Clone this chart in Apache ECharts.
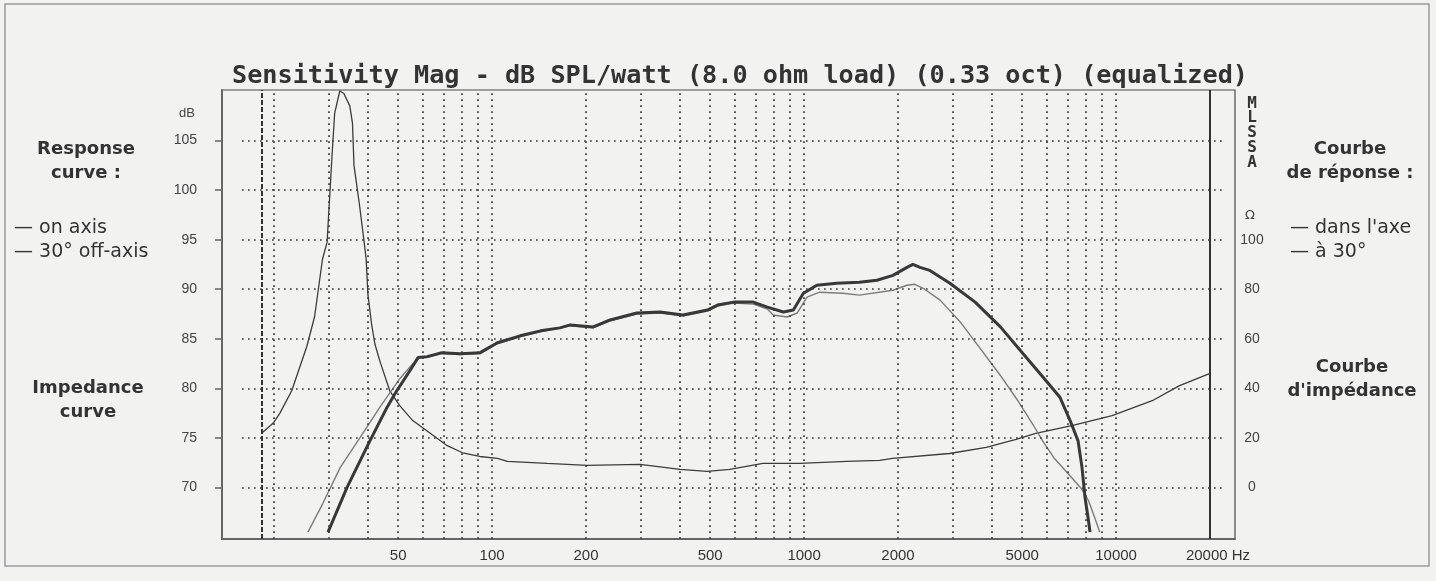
<!DOCTYPE html>
<html>
<head>
<meta charset="utf-8">
<title>Sensitivity Mag</title>
<script src="https://cdn.jsdelivr.net/npm/echarts@6/dist/echarts.min.js"></script>
<style>
    html, body { margin: 0; padding: 0; background: #f2f2f0; }
    #main { width: 1436px; height: 581px; }
</style>
</head>
<body>
<div id="main"></div>
<script>
// values (Hz / dB / ohm)
var onAxisFreq = [29.8, 34.3, 40.6, 46.1, 49.6, 54.6, 57.9, 61.9, 69.1, 79, 91.6, 104, 123, 143, 165,
    178, 211, 239, 291, 346, 409, 490, 528, 594, 688, 763, 858, 924, 995, 1099,
    1271, 1504, 1712, 1927, 2137, 2233, 2352, 2530, 2934, 3534, 4258, 4942, 5736, 6607, 7112,
    7553, 7778, 7950, 8128, 8250];
var onAxisDb = [65.5, 70, 74.7, 78.1, 79.8, 81.8, 83.1, 83.2, 83.6, 83.5, 83.6, 84.6, 85.3, 85.8, 86.1,
    86.4, 86.2, 86.9, 87.6, 87.7, 87.4, 87.9, 88.4, 88.7, 88.7, 88.2, 87.7, 87.9, 89.6, 90.4,
    90.6, 90.7, 90.9, 91.4, 92.2, 92.5, 92.2, 91.9, 90.6, 88.7, 86.2, 83.8, 81.4, 79.1, 76.8,
    74.7, 72, 69, 67, 65.5];

var offAxisFreq = [25.7, 28.7, 32.6, 37.7, 43.7, 50.7, 55.8, 58.7, 61.9, 69.1, 79, 91.6, 104, 123, 143,
    178, 211, 239, 291, 346, 409, 490, 528, 594, 688, 763, 796, 882, 950, 1022,
    1122, 1330, 1504, 1927, 2137, 2264, 2436, 2728, 3166, 3672, 4258, 4832, 5426, 5815, 6316,
    7012, 7734, 8151, 8532, 8862];
var offAxisDb = [65.5, 68.4, 72, 75, 78.1, 81, 82.5, 83.1, 83.1, 83.5, 83.4, 83.5, 84.5, 85.2, 85.7,
    86.3, 86.1, 86.8, 87.5, 87.6, 87.3, 87.8, 88.3, 88.6, 88.5, 88.0, 87.4, 87.2, 87.6, 89.2,
    89.7, 89.6, 89.4, 89.9, 90.4, 90.5, 90.0, 88.9, 86.7, 84.0, 81.3, 78.8, 76.3, 74.7, 73,
    71.4, 69.9, 68.7, 67, 65.5];

var impFreq = [18.3, 19.9, 20.9, 22.8, 25.5, 27.0, 28.6, 29.6, 30.7, 31.3, 32.5, 33.5, 35.0, 35.7, 36.1,
    37.6, 39.0, 39.5, 40.0, 41.1, 42.1, 43.7, 47.0, 50.6, 55.7, 63.2, 71.5, 80.5, 91.3, 104,
    112, 150, 202, 298, 400, 489, 578, 738, 969, 1371, 1748, 1922, 2924, 3836, 4781,
    5526, 7213, 9710, 13061, 15910, 20000];
var impOhm = [22, 26, 30, 39, 57, 69, 92, 99, 134, 151, 160, 159, 154, 147, 130,
    114, 98, 92, 78, 66, 58, 51, 39, 33, 27, 22, 17, 14, 12.5, 11.7,
    10.5, 9.7, 8.9, 9.3, 7.3, 6.5, 7.3, 9.7, 9.7, 10.5, 10.9, 11.7, 13.7, 16.2, 19.4,
    21.8, 25, 29, 35, 41, 46];

var gridFreqs = [20, 30, 40, 50, 60, 70, 80, 90, 100, 200, 300, 400, 500, 600, 700, 800, 900,
    1000, 2000, 3000, 4000, 5000, 6000, 7000, 8000, 9000, 10000];
var limitFreqs = [18.3, 20000];
var freqLabels = [50, 100, 200, 500, 1000, 2000, 5000, 10000, 20000];
var dbLabels = [70, 75, 80, 85, 90, 95, 100, 105];
var ohmLabels = [0, 20, 40, 60, 80, 100];

function pairs(xs, ys) {
    return xs.map(function (x, i) { return [x, ys[i]]; });
}

var dotted = { color: '#3a3a3a', width: 1.7, type: [1.7, 4.3] };
var sans = '"Liberation Sans", Arial, sans-serif';
var note = '"DejaVu Sans", sans-serif';

var myChart = echarts.init(document.getElementById('main'));
var option = {
    backgroundColor: '#f2f2f0',
    animation: false,
    grid: [
        { left: 222, right: 201, top: 90, bottom: 42, show: true, borderColor: '#4a4a4a', borderWidth: 1.2 },
        { left: 242, right: 211, top: 90, bottom: 42 }
    ],
    xAxis: [
        {
            type: 'log', gridIndex: 0, min: 13.63, max: 24050,
            axisLine: { show: true, onZero: false, lineStyle: { color: '#666', width: 2 } },
            axisTick: { show: false },
            splitLine: { show: false },
            axisLabel: {
                customValues: freqLabels, margin: 9, fontSize: 15, color: '#333', fontFamily: sans,
                formatter: function (v) {
                    v = Math.round(v);
                    return v === 20000 ? '{hz|20000 Hz}' : String(v);
                },
                rich: { hz: { fontSize: 15, color: '#333', fontFamily: sans, padding: [0, 0, 0, 16] } }
            }
        },
        { type: 'value', gridIndex: 1, min: 0, max: 1, show: false, axisLine: { onZero: false } }
    ],
    yAxis: [
        {
            type: 'value', gridIndex: 0, min: 64.8, max: 110.1,
            axisLine: { show: true, onZero: false, lineStyle: { color: '#666', width: 2 } },
            axisTick: { show: true, customValues: dbLabels, length: 7, lineStyle: { color: '#666', width: 1.5 } },
            axisLabel: { customValues: dbLabels, margin: 25, fontSize: 14, color: '#444', fontFamily: sans },
            splitLine: { show: false }
        },
        {
            type: 'value', gridIndex: 0, position: 'right', min: -20.8, max: 160.4,
            axisLine: { show: false, onZero: false },
            axisTick: { show: false },
            axisLabel: { customValues: ohmLabels, align: 'center', margin: 17, fontSize: 14, color: '#444', fontFamily: sans },
            splitLine: { show: false }
        },
        { type: 'value', gridIndex: 1, min: 64.8, max: 110.1, show: false, axisLine: { onZero: false } }
    ],
    graphic: [
        { type: 'rect', shape: { x: 5, y: 4, width: 1424, height: 562 }, style: { fill: 'none', stroke: '#9a9a9a', lineWidth: 1.5 }, z: -1 },
        { type: 'text', x: 740, y: 76, style: { text: 'Sensitivity Mag - dB SPL/watt (8.0 ohm load) (0.33 oct) (equalized)', font: 'bold 25.2px "DejaVu Sans Mono", monospace', fill: '#333', align: 'center', verticalAlign: 'middle' } },
        { type: 'text', x: 1252, y: 96, style: { text: 'M\nL\nS\nS\nA', font: 'bold 16px "DejaVu Sans Mono", monospace', lineHeight: 14.8, fill: '#333', align: 'center', verticalAlign: 'top' } },
        { type: 'text', x: 187, y: 113, style: { text: 'dB', font: '13px ' + sans, fill: '#444', align: 'center', verticalAlign: 'middle' } },
        { type: 'text', x: 1250, y: 216, style: { text: 'Ω', font: '13px ' + note, fill: '#444', align: 'center', verticalAlign: 'middle' } },
        { type: 'text', x: 86, y: 161, style: { text: 'Response\ncurve :', font: 'bold 18px ' + note, lineHeight: 24, fill: '#333', align: 'center', verticalAlign: 'middle' } },
        { type: 'text', x: 14, y: 240, style: { text: '— on axis\n— 30° off-axis', font: '19px ' + note, lineHeight: 24, fill: '#333', align: 'left', verticalAlign: 'middle' } },
        { type: 'text', x: 88, y: 400, style: { text: 'Impedance\ncurve', font: 'bold 18px ' + note, lineHeight: 24, fill: '#333', align: 'center', verticalAlign: 'middle' } },
        { type: 'text', x: 1350, y: 161, style: { text: 'Courbe\nde réponse :', font: 'bold 18px ' + note, lineHeight: 24, fill: '#333', align: 'center', verticalAlign: 'middle' } },
        { type: 'text', x: 1290, y: 240, style: { text: '— dans l\'axe\n— à 30°', font: '19px ' + note, lineHeight: 24, fill: '#333', align: 'left', verticalAlign: 'middle' } },
        { type: 'text', x: 1352, y: 379, style: { text: 'Courbe\nd\'impédance', font: 'bold 18px ' + note, lineHeight: 24, fill: '#333', align: 'center', verticalAlign: 'middle' } }
    ],
    series: [
        {
            // vertical dotted grid
            name: 'vgrid', type: 'line', xAxisIndex: 0, yAxisIndex: 0, data: [], silent: true, z: 1,
            markLine: {
                symbol: 'none', silent: true, animation: false, label: { show: false },
                lineStyle: dotted,
                data: gridFreqs.map(function (f) { return { xAxis: f }; })
            }
        },
        {
            name: 'limits', type: 'line', xAxisIndex: 0, yAxisIndex: 0, data: [], silent: true, z: 2,
            markLine: {
                symbol: 'none', silent: true, animation: false, label: { show: false },
                data: [
                    { xAxis: limitFreqs[0], lineStyle: { color: '#333', width: 2, type: [5, 2] } },
                    { xAxis: limitFreqs[1], lineStyle: { color: '#333', width: 2, type: 'solid' } }
                ]
            }
        },
        {
            // horizontal dotted grid
            name: 'hgrid', type: 'line', xAxisIndex: 1, yAxisIndex: 2, data: [], silent: true, z: 1,
            markLine: {
                symbol: 'none', silent: true, animation: false, label: { show: false },
                lineStyle: dotted,
                data: dbLabels.map(function (v) { return { yAxis: v }; })
            }
        },
        {
            name: 'Impedance', type: 'line', xAxisIndex: 0, yAxisIndex: 1, z: 3,
            data: pairs(impFreq, impOhm), showSymbol: false,
            lineStyle: { color: '#3c3c3c', width: 1.3 }
        },
        {
            name: '30° off-axis', type: 'line', xAxisIndex: 0, yAxisIndex: 0, z: 3,
            data: pairs(offAxisFreq, offAxisDb), showSymbol: false,
            lineStyle: { color: '#7c7c7c', width: 1.4 }
        },
        {
            name: 'on axis', type: 'line', xAxisIndex: 0, yAxisIndex: 0, z: 4,
            data: pairs(onAxisFreq, onAxisDb), showSymbol: false,
            lineStyle: { color: '#383838', width: 3 }
        }
    ]
};
myChart.setOption(option);
</script>
</body>
</html>
